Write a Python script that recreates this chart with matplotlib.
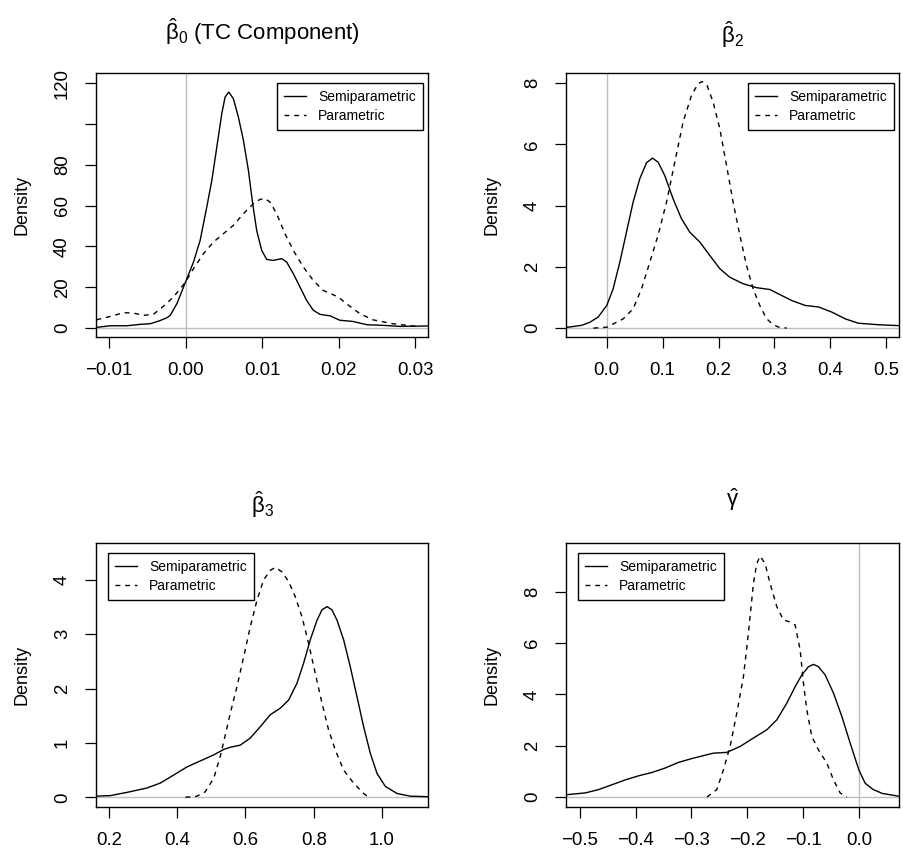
"""Density comparison of semiparametric vs parametric estimates"""

import matplotlib
matplotlib.use('Agg')
import matplotlib.pyplot as plt
from matplotlib.lines import Line2D

plt.rcParams['font.family'] = ['Liberation Sans', 'DejaVu Sans']
plt.rcParams['mathtext.fontset'] = 'custom'
plt.rcParams['mathtext.rm'] = 'Liberation Sans'
plt.rcParams['mathtext.it'] = 'Liberation Sans:italic'
plt.rcParams['mathtext.bf'] = 'Liberation Sans:bold'

# beta_0 (TC component)
b0_semi_x = [-0.01165, -0.0098, -0.00765, -0.0059, -0.0046, -0.0035, -0.00243, -0.002,
             -0.00113, 0.0, 0.00104, 0.00191, 0.00278, 0.00344, 0.00409, 0.00474,
             0.00517, 0.00565, 0.00626, 0.00691, 0.00757, 0.00822, 0.00878, 0.0093,
             0.00996, 0.01061, 0.01148, 0.01257, 0.01322, 0.01409, 0.01496, 0.01583,
             0.0167, 0.01757, 0.01843, 0.01887, 0.02017, 0.0219, 0.0237, 0.0258, 0.028,
             0.0317]
b0_semi_y = [0.3, 1.1, 1.1, 1.8, 2.1, 3.4, 5.0, 6.2, 11.9, 22.5, 32.3, 42.9, 59.3, 72.3,
             88.6, 105.0, 113.1, 115.6, 112.3, 103.3, 91.9, 77.2, 60.9, 47.8, 38.0, 33.6,
             33.1, 34.0, 32.3, 26.6, 20.1, 13.5, 8.7, 6.7, 6.2, 6.0, 3.8, 3.2, 1.6, 1.3,
             0.8, 1.0]
b0_par_x = [-0.01165, -0.0098, -0.0081, -0.0068, -0.0055, -0.0042, -0.0029, -0.00157,
            0.0, 0.00104, 0.00235, 0.00365, 0.00496, 0.00626, 0.00757, 0.00887, 0.00974,
            0.01039, 0.01104, 0.01191, 0.013, 0.01409, 0.01539, 0.0167, 0.018, 0.01996,
            0.021, 0.0228, 0.0245, 0.0271, 0.0297, 0.0306]
b0_par_y = [4.0, 5.7, 7.5, 7.3, 6.2, 6.7, 10.6, 15.2, 22.5, 29.1, 36.4, 42.1, 46.2, 50.3,
            56.0, 60.9, 63.0, 63.4, 61.7, 56.0, 46.2, 38.0, 29.9, 23.3, 18.4, 15.2, 12.0,
            7.0, 4.0, 2.1, 1.0, 0.5]

# beta_2
b2_semi_x = [-0.073, -0.045, -0.0304, -0.0155, 0.0, 0.0113, 0.0233, 0.0352, 0.0471,
             0.0591, 0.0711, 0.0818, 0.0918, 0.1038, 0.1187, 0.1337, 0.1486, 0.1665,
             0.1844, 0.2023, 0.2202, 0.244, 0.268, 0.2918, 0.307, 0.331, 0.355, 0.379,
             0.403, 0.427, 0.45, 0.486, 0.523]
b2_semi_y = [0.02, 0.09, 0.19, 0.36, 0.74, 1.28, 2.15, 3.13, 4.11, 4.88, 5.40, 5.55,
             5.42, 4.98, 4.22, 3.57, 3.13, 2.81, 2.37, 1.94, 1.66, 1.45, 1.32, 1.26,
             1.12, 0.9, 0.74, 0.69, 0.52, 0.3, 0.16, 0.11, 0.08]
b2_par_x = [-0.024, 0.0, 0.0292, 0.0471, 0.0621, 0.077, 0.0918, 0.1069, 0.1217, 0.1366,
            0.1516, 0.1634, 0.1706, 0.1795, 0.1903, 0.2023, 0.2143, 0.2261, 0.2381,
            0.25, 0.2619, 0.2738, 0.2858, 0.296, 0.306, 0.322]
b2_par_y = [0.0, 0.03, 0.30, 0.63, 1.28, 2.15, 3.03, 4.11, 5.42, 6.73, 7.60, 7.98, 8.05,
            7.92, 7.38, 6.51, 5.31, 4.11, 3.03, 2.05, 1.28, 0.74, 0.31, 0.14, 0.04, 0.0]

# beta_3
b3_semi_x = [0.163, 0.204, 0.253, 0.311, 0.35, 0.39, 0.429, 0.468, 0.507, 0.536, 0.5556,
             0.5849, 0.6142, 0.6435, 0.6728, 0.7021, 0.7265, 0.751, 0.7704, 0.79, 0.8096,
             0.8243, 0.8389, 0.8535, 0.8682, 0.8876, 0.9072, 0.9268, 0.9462, 0.9658,
             0.9854, 1.0098, 1.044, 1.083, 1.137]
b3_semi_y = [0.02, 0.03, 0.09, 0.17, 0.26, 0.41, 0.56, 0.67, 0.78, 0.88, 0.92, 0.96,
             1.09, 1.30, 1.52, 1.64, 1.79, 2.10, 2.47, 2.90, 3.26, 3.45, 3.51, 3.45,
             3.26, 2.90, 2.40, 1.85, 1.30, 0.81, 0.44, 0.20, 0.07, 0.02, 0.01]
b3_par_x = [0.424, 0.458, 0.482, 0.507, 0.526, 0.541, 0.5556, 0.5752, 0.5946, 0.6142,
            0.6338, 0.6531, 0.6728, 0.6874, 0.707, 0.7265, 0.746, 0.7657, 0.785, 0.8046,
            0.8243, 0.8436, 0.8632, 0.8876, 0.9169, 0.9462, 0.961]
b3_par_y = [0.0, 0.02, 0.1, 0.35, 0.75, 1.15, 1.55, 2.04, 2.58, 3.14, 3.63, 4.0, 4.18,
            4.23, 4.15, 3.97, 3.69, 3.32, 2.83, 2.28, 1.73, 1.24, 0.87, 0.50, 0.26, 0.07,
            0.0]

# gamma
g_semi_x = [-0.524, -0.49, -0.466, -0.442, -0.418, -0.394, -0.37, -0.347, -0.323,
            -0.299, -0.2843, -0.2605, -0.2365, -0.2127, -0.1888, -0.1649, -0.1469,
            -0.129, -0.1141, -0.1021, -0.0902, -0.0813, -0.0723, -0.0603, -0.0454,
            -0.0304, -0.0155, 0.0, 0.0113, 0.025, 0.042, 0.072]
g_semi_y = [0.09, 0.16, 0.29, 0.48, 0.67, 0.83, 0.96, 1.13, 1.35, 1.5, 1.58, 1.71, 1.74,
            1.97, 2.3, 2.62, 3.01, 3.66, 4.3, 4.76, 5.08, 5.17, 5.08, 4.76, 4.05, 3.14,
            2.1, 1.06, 0.54, 0.3, 0.14, 0.03]
g_par_x = [-0.272, -0.2544, -0.2425, -0.2306, -0.2186, -0.2067, -0.1978, -0.1888,
           -0.1828, -0.1768, -0.1679, -0.159, -0.1469, -0.135, -0.1243, -0.1141,
           -0.1051, -0.0992, -0.0932, -0.0842, -0.0723, -0.0573, -0.0454, -0.0335,
           -0.0215]
g_par_y = [0.0, 0.29, 1.06, 1.97, 3.27, 4.69, 6.38, 8.33, 9.1, 9.39, 9.1, 8.33, 7.42,
           6.9, 6.83, 6.71, 5.73, 4.44, 3.4, 2.36, 1.84, 1.32, 0.67, 0.16, 0.0]

titles = [r'$\hat{\mathrm{\beta}}_0$ (TC Component)', r'$\hat{\mathrm{\beta}}_2$',
          r'$\hat{\mathrm{\beta}}_3$', r'$\hat{\mathrm{\gamma}}$']

xticks = [[-0.01, 0.0, 0.01, 0.02, 0.03], [0.0, 0.1, 0.2, 0.3, 0.4, 0.5],
          [0.2, 0.4, 0.6, 0.8, 1.0], [-0.5, -0.4, -0.3, -0.2, -0.1, 0.0]]
xticklabels = [['\u22120.01', '0.00', '0.01', '0.02', '0.03'],
               ['0.0', '0.1', '0.2', '0.3', '0.4', '0.5'],
               ['0.2', '0.4', '0.6', '0.8', '1.0'],
               ['\u22120.5', '\u22120.4', '\u22120.3', '\u22120.2', '\u22120.1', '0.0']]
yticks = [[0, 20, 40, 60, 80, 100, 120], [0, 2, 4, 6, 8], [0, 1, 2, 3, 4], [0, 2, 4, 6, 8]]
yticklabels = [['0', '20', '40', '60', '80', '', '120'], ['0', '2', '4', '6', '8'],
               ['0', '1', '2', '3', '4'], ['0', '2', '4', '6', '8']]

xlims = [(-0.0117, 0.0317), (-0.073, 0.523), (0.162, 1.135), (-0.5245, 0.072)]
ylims = [(-4.4, 124.9), (-0.29, 8.33), (-0.18, 4.68), (-0.39, 9.9)]

curves = [(b0_semi_x, b0_semi_y, b0_par_x, b0_par_y),
          (b2_semi_x, b2_semi_y, b2_par_x, b2_par_y),
          (b3_semi_x, b3_semi_y, b3_par_x, b3_par_y),
          (g_semi_x, g_semi_y, g_par_x, g_par_y)]

# axes boxes in figure fractions: left, bottom, width, height
boxes = [(0.1062, 0.6077, 0.3673, 0.3073), (0.6261, 0.6077, 0.3684, 0.3073),
         (0.1062, 0.0605, 0.3673, 0.3073), (0.6261, 0.0605, 0.3684, 0.3073)]
title_pos = [(0.2898, 0.963), (0.8097, 0.960), (0.2898, 0.412), (0.8108, 0.418)]
legend_loc = ['upper right', 'upper right', 'upper left', 'upper left']
legend_anchor = [(0.984, 0.962), (0.984, 0.962), (0.036, 0.962), (0.036, 0.962)]

fig = plt.figure(figsize=(9.04, 8.59), dpi=100)

for i in range(4):
    ax = fig.add_axes(boxes[i])
    sx, sy, px, py = curves[i]

    ax.axhline(0, color='#bebebe', linewidth=1.0, zorder=1)
    ax.axvline(0, color='#bebebe', linewidth=1.0, zorder=1)
    ax.plot(sx, sy, color='black', linewidth=1.0, zorder=3, solid_joinstyle='round')
    ax.plot(px, py, color='black', linewidth=1.0, dashes=(3.5, 3.5), zorder=3)

    ax.set_xlim(xlims[i])
    ax.set_ylim(ylims[i])
    ax.set_xticks(xticks[i])
    ax.set_xticklabels(xticklabels[i])
    ax.set_yticks(yticks[i])
    ax.set_yticklabels(yticklabels[i], rotation=90, va='center')
    ax.tick_params(direction='out', length=8, width=0.9, pad=10,
                   labelsize=13.4, color='black')
    for sp in ax.spines.values():
        sp.set_linewidth(1.0)
    ax.set_ylabel('Density', fontsize=13, labelpad=17)

    handles = [Line2D([], [], color='black', linewidth=1.0),
               Line2D([], [], color='black', linewidth=1.0, dashes=(3.5, 3.5))]
    leg = ax.legend(handles, ['Semiparametric', 'Parametric'], loc=legend_loc[i],
                    bbox_to_anchor=legend_anchor[i], fontsize=10, frameon=True,
                    fancybox=False, edgecolor='black', framealpha=1,
                    handlelength=1.6, handletextpad=0.85, labelspacing=0.37,
                    borderpad=0.5, borderaxespad=0)
    leg.get_frame().set_linewidth(1.0)

    fig.text(title_pos[i][0], title_pos[i][1], titles[i], fontsize=16,
             ha='center', va='center')

plt.savefig('out.png', dpi=100)
